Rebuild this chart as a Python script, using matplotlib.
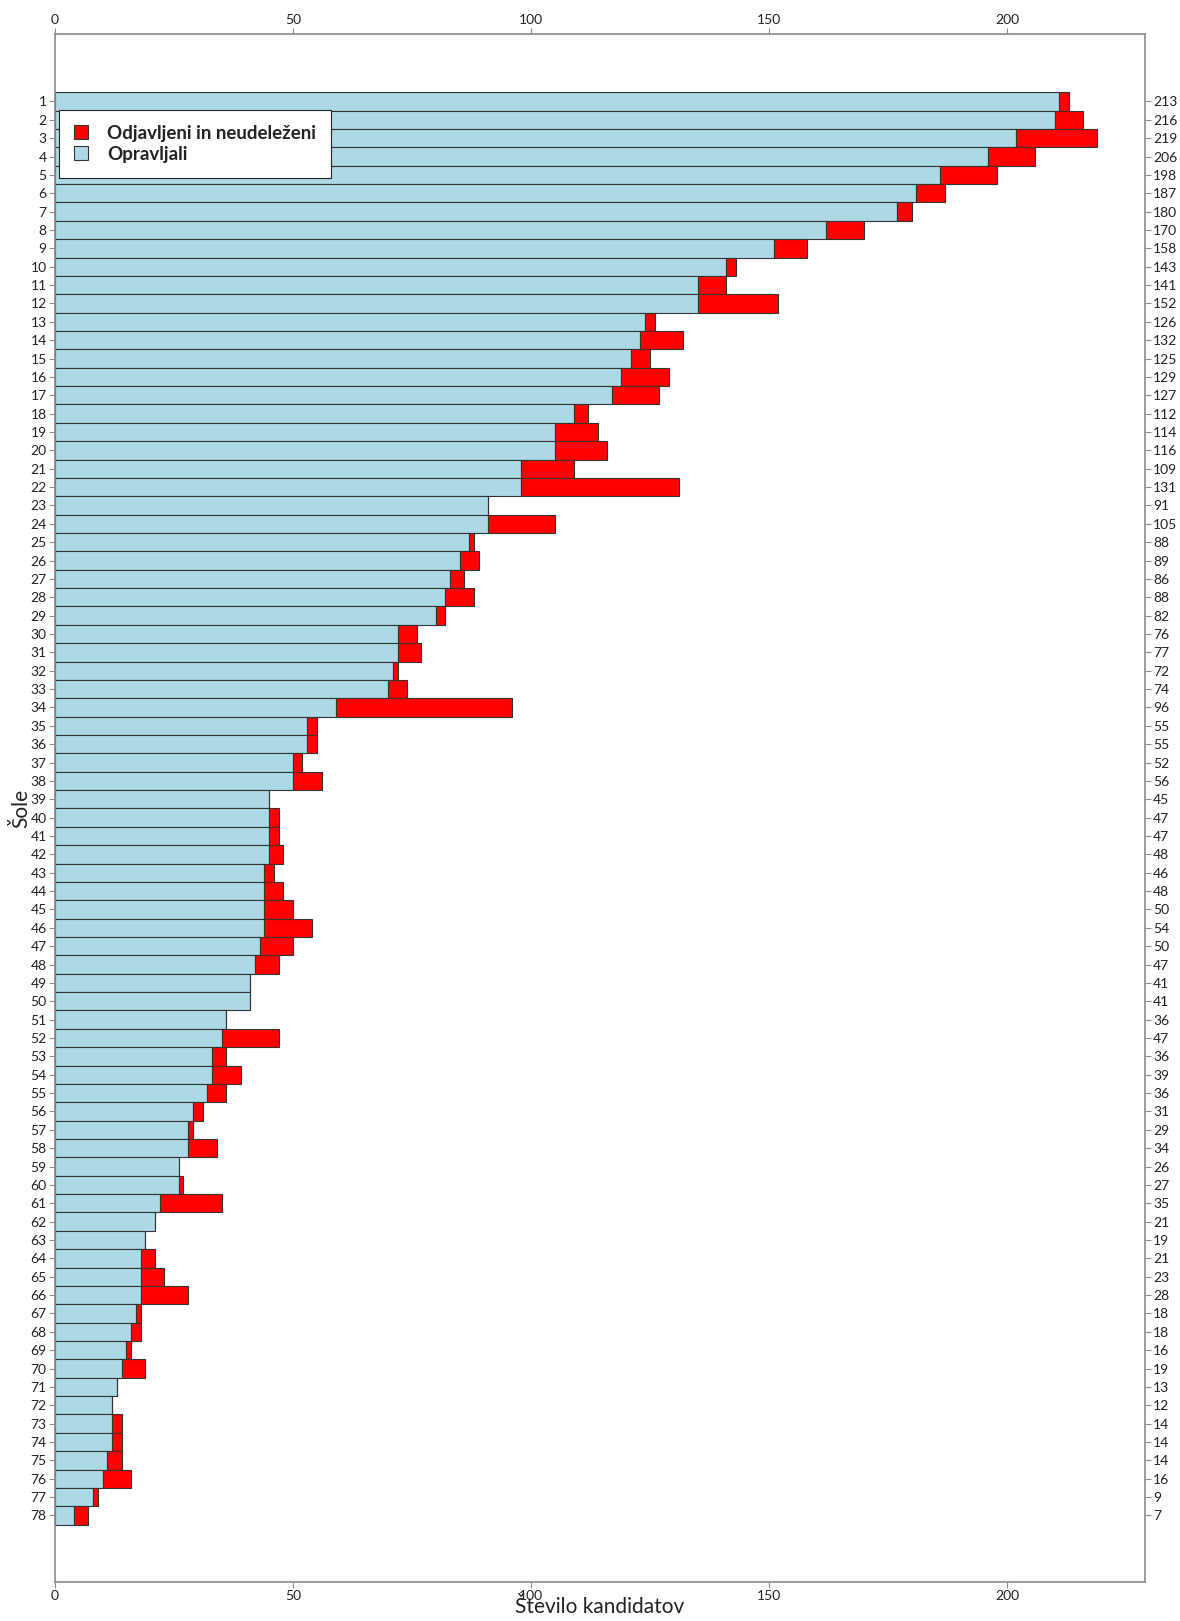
import matplotlib
matplotlib.use("Agg")
import matplotlib.pyplot as plt
from matplotlib.patches import Patch

plt.rcParams['font.family'] = ['Lato', 'DejaVu Sans']

# school numbers, candidates who sat the exam, and totals (incl. withdrawn / absent)
schools = list(range(1, 79))
opravljali = [211, 210, 202, 196, 186, 181, 177, 162, 151, 141,
              135, 135, 124, 123, 121, 119, 117, 109, 105, 105,
              98, 98, 91, 91, 87, 85, 83, 82, 80, 72,
              72, 71, 70, 59, 53, 53, 50, 50, 45, 45,
              45, 45, 44, 44, 44, 44, 43, 42, 41, 41,
              36, 35, 33, 33, 32, 29, 28, 28, 26, 26,
              22, 21, 19, 18, 18, 18, 17, 16, 15, 14,
              13, 12, 12, 12, 11, 10, 8, 4]
skupaj = [213, 216, 219, 206, 198, 187, 180, 170, 158, 143,
          141, 152, 126, 132, 125, 129, 127, 112, 114, 116,
          109, 131, 91, 105, 88, 89, 86, 88, 82, 76,
          77, 72, 74, 96, 55, 55, 52, 56, 45, 47,
          47, 48, 46, 48, 50, 54, 50, 47, 41, 41,
          36, 47, 36, 39, 36, 31, 29, 34, 26, 27,
          35, 21, 19, 21, 23, 28, 18, 18, 16, 19,
          13, 12, 14, 14, 14, 16, 9, 7]
odjavljeni = [t - o for t, o in zip(skupaj, opravljali)]

x_ticks = [0, 50, 100, 150, 200]

BLUE = '#add8e6'
RED = '#ff0000'
EDGE = '#333333'
SPINE = '#8c8c8c'
TXT = '#222222'

fig = plt.figure(figsize=(11.8, 16.21), dpi=100)
ax = fig.add_axes([0.0466, 0.0241, 0.9237, 0.9549])

ax.barh(schools, opravljali, height=1.0, color=BLUE, edgecolor=EDGE, linewidth=0.8)
ax.barh(schools, odjavljeni, left=opravljali, height=1.0, color=RED,
        edgecolor=EDGE, linewidth=0.8)

ax.set_xlim(0, 229)
ax.set_ylim(81.62, -2.67)
ax.set_xticks(x_ticks)
ax.set_yticks(schools)
ax.set_yticklabels([str(s) for s in schools])
ax.tick_params(axis='both', direction='out', length=4, width=0.8, color=SPINE,
               labelsize=10, labelcolor=TXT, pad=2)
ax.tick_params(axis='x', top=True, labeltop=True)
for sp in ax.spines.values():
    sp.set_color(SPINE)
    sp.set_linewidth(1.2)

# totals on the right-hand axis
ax2 = ax.twinx()
ax2.set_ylim(ax.get_ylim())
ax2.set_yticks(schools)
ax2.set_yticklabels([str(t) for t in skupaj])
ax2.tick_params(axis='y', direction='out', length=4, width=0.8, color=SPINE,
                labelsize=10, labelcolor=TXT, pad=2)
for sp in ax2.spines.values():
    sp.set_visible(False)

ax.set_xlabel('Število kandidatov', fontsize=15, color=TXT)
ax.xaxis.set_label_coords(0.5, -0.0095)
ax.set_ylabel('Šole', fontsize=15, color=TXT)
ax.yaxis.set_label_coords(-0.022, 0.5)

handles = [Patch(facecolor=RED, edgecolor=EDGE, linewidth=0.8),
           Patch(facecolor=BLUE, edgecolor=EDGE, linewidth=0.8)]
leg = ax.legend(handles, ['Odjavljeni in neudeleženi', 'Opravljali'],
                loc='upper left', bbox_to_anchor=(0.0037, 0.951), borderaxespad=0,
                fancybox=False, framealpha=1, edgecolor='#222222',
                prop={'size': 13.5, 'weight': 'bold'},
                handlelength=0.75, handleheight=0.75, handletextpad=1.0,
                borderpad=0.8, labelspacing=0.2)
leg.get_frame().set_linewidth(0.8)
for t in leg.get_texts():
    t.set_color(TXT)

fig.savefig('out.png', dpi=100)
